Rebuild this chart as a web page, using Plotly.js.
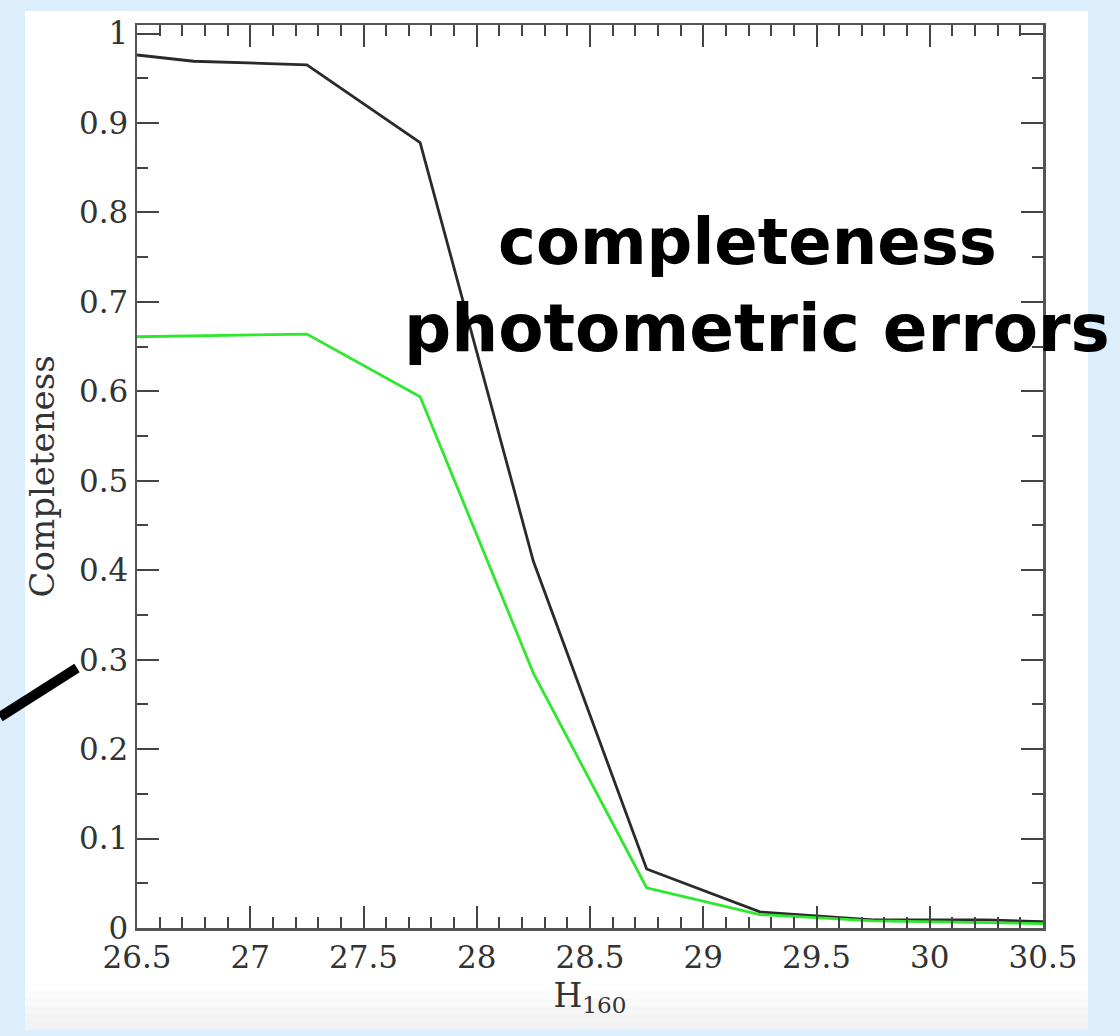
<!DOCTYPE html>
<html><head><meta charset="utf-8">
<script src="https://cdn.plot.ly/plotly-3.0.1.min.js"></script>
<style>html,body{margin:0;padding:0;background:#dcedfb}#chart{width:1120px;height:1036px}</style>
</head><body><div id="chart"></div><script>
const magnitude = [26.5, 26.75, 27.25, 27.75, 28.25, 28.75, 29.25, 29.75, 30.25, 30.5];
const completeness = [0.976, 0.969, 0.965, 0.878, 0.41, 0.066, 0.018, 0.009, 0.009, 0.007];
const photErrors = [0.661, 0.662, 0.664, 0.594, 0.285, 0.045, 0.015, 0.008, 0.006, 0.005];
const xTicks = [26.5, 27, 27.5, 28, 28.5, 29, 29.5, 30, 30.5];
const xTickText = ['26.5', '27', '27.5', '28', '28.5', '29', '29.5', '30', '30.5'];
const yTicks = [0, 0.1, 0.2, 0.3, 0.4, 0.5, 0.6, 0.7, 0.8, 0.9, 1];
const yTickText = ['0', '0.1', '0.2', '0.3', '0.4', '0.5', '0.6', '0.7', '0.8', '0.9', '1'];
const labelLines = ['completeness', 'photometric errors'];

const serif = 'DejaVu Serif, Liberation Serif, serif';
const tickCol = '#444';

const traces = [
  {x: magnitude, y: completeness, mode: 'lines', line: {color: '#2a2a2a', width: 2.8}, hoverinfo: 'skip'},
  {x: magnitude, y: photErrors, mode: 'lines', line: {color: '#2ee82e', width: 2.8}, hoverinfo: 'skip'}
];

const shapes = [
  {type: 'rect', xref: 'paper', yref: 'paper', x0: -0.1236, x1: 1.0497, y0: -0.113, y1: 1.0155,
   fillcolor: '#ffffff', line: {width: 0}, layer: 'below'}
];
// soft grey fade at the panel bottom
const fade = ['#fcfcfc', '#f9f9f9', '#f6f6f6', '#f3f3f3', '#f1f1f1'];
fade.forEach((c, i) => {
  const top = 990 + i * 8, bot = top + 8;
  shapes.push({type: 'rect', xref: 'paper', yref: 'paper', x0: -0.1236, x1: 1.0497,
    y0: (928 - Math.min(bot, 1030)) / 903, y1: (928 - top) / 903,
    fillcolor: c, line: {width: 0}, layer: 'below'});
});
// pointer line at left
shapes.push({type: 'line', xref: 'paper', yref: 'paper', x0: -0.1512, y0: (928 - 717) / 903,
  x1: (77 - 137) / 906, y1: (928 - 668) / 903, line: {color: '#000', width: 10}, layer: 'above'});

const annotations = [
  {xref: 'paper', yref: 'paper', x: (747 - 137) / 906, y: (928 - 242) / 903, text: '<b>' + labelLines[0] + '</b>',
   showarrow: false, font: {family: 'DejaVu Sans, sans-serif', size: 64, color: '#000'}, xanchor: 'center', yanchor: 'middle'},
  {xref: 'paper', yref: 'paper', x: (757 - 137) / 906, y: (928 - 328) / 903, text: '<b>' + labelLines[1] + '</b>',
   showarrow: false, font: {family: 'DejaVu Sans, sans-serif', size: 66, color: '#000'}, xanchor: 'center', yanchor: 'middle'}
];

const layout = {
  width: 1120, height: 1036,
  margin: {l: 137, r: 77, t: 25, b: 108},
  paper_bgcolor: '#dcedfb',
  plot_bgcolor: '#ffffff',
  showlegend: false,
  xaxis: {
    range: [26.5, 30.5], tickvals: xTicks, ticktext: xTickText,
    ticks: 'inside', ticklen: 22, tickwidth: 2, tickcolor: tickCol,
    minor: {dtick: 0.1, tick0: 26.5, ticks: 'inside', ticklen: 11, tickwidth: 2, tickcolor: tickCol, showgrid: false},
    showline: true, linecolor: '#555', linewidth: 2.5, mirror: 'ticks',
    showgrid: false, zeroline: false,
    tickfont: {family: serif, size: 31, color: '#333'},
    title: {text: 'H<sub>160</sub>', font: {family: serif, size: 33, color: '#333'}, standoff: 10}
  },
  yaxis: {
    range: [0, 1.0095], tickvals: yTicks, ticktext: yTickText,
    ticks: 'inside', ticklen: 22, tickwidth: 2, tickcolor: tickCol,
    minor: {dtick: 0.05, tick0: 0, ticks: 'inside', ticklen: 11, tickwidth: 2, tickcolor: tickCol, showgrid: false},
    showline: true, linecolor: '#555', linewidth: 2.5, mirror: 'ticks',
    showgrid: false, zeroline: false,
    tickfont: {family: serif, size: 31, color: '#333'},
    title: {text: 'Completeness', font: {family: serif, size: 34, color: '#333'}, standoff: 14}
  },
  shapes: shapes,
  annotations: annotations
};

Plotly.newPlot('chart', traces, layout, {displayModeBar: false, staticPlot: true});
</script></body></html>
